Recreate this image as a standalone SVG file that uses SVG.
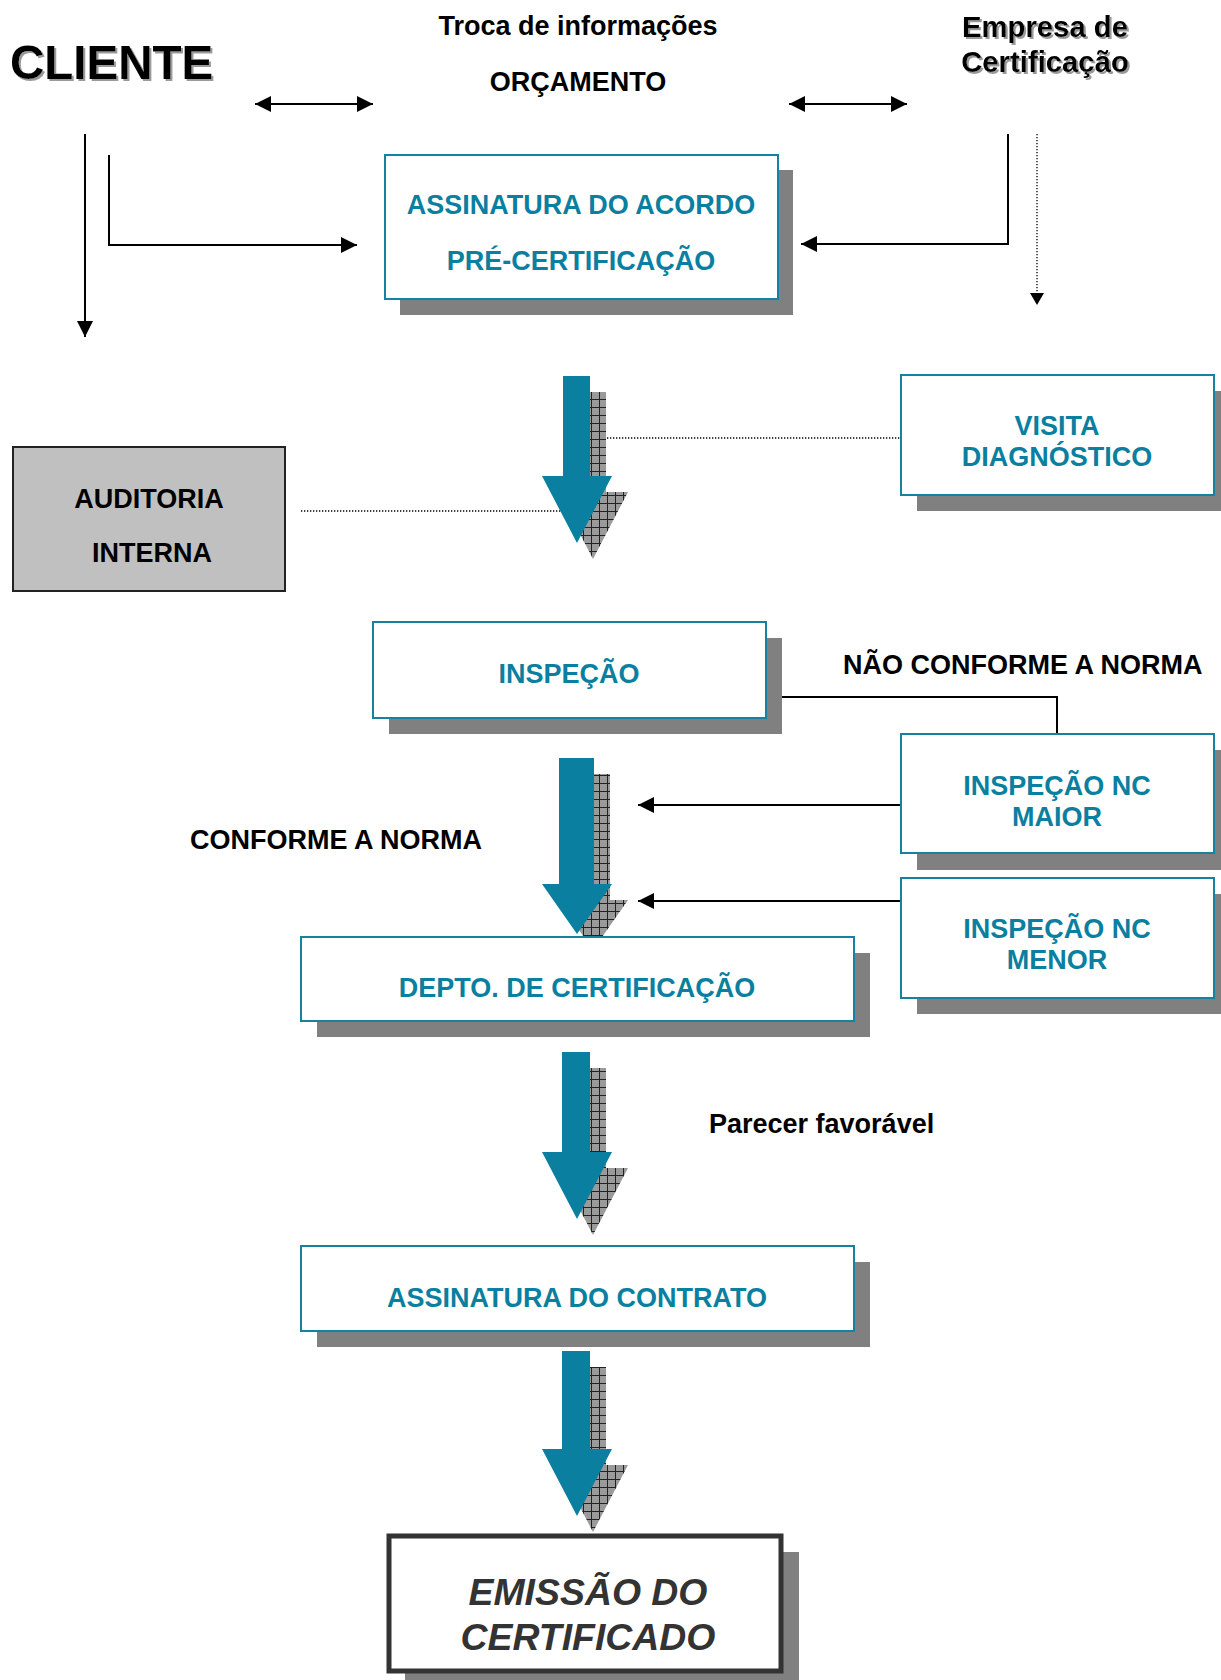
<svg xmlns="http://www.w3.org/2000/svg" width="1221" height="1680" viewBox="0 0 1221 1680">
<style>
text{font-family:"Liberation Sans",Arial,sans-serif;font-weight:bold}
.lbl{fill:#000;font-size:27px}
.teal{fill:#0B7FA0;font-size:27px;text-anchor:middle}
.box{fill:#fff;stroke:#1383A1;stroke-width:2}
.shadow{fill:#808080}
.line{fill:none;stroke:#000;stroke-width:2}
.dot{fill:none;stroke:#000;stroke-width:1.3;stroke-dasharray:1.3 1.7}
.big{fill:#0A7FA0}
.bigsh{fill:url(#hatch)}
</style>
<defs>
<marker id="ah" markerUnits="userSpaceOnUse" markerWidth="16" markerHeight="16" viewBox="0 0 14 14" refX="14" refY="7" orient="auto-start-reverse">
<path d="M0,0 L14,7 L0,14 z" fill="#000"/>
</marker>
<marker id="ahs" markerUnits="userSpaceOnUse" markerWidth="12" markerHeight="14" viewBox="0 0 12 14" refX="12" refY="7" orient="auto">
<path d="M0,0 L12,7 L0,14 z" fill="#000"/>
</marker>
<pattern id="hatch" patternUnits="userSpaceOnUse" width="8" height="8">
<rect width="8" height="8" fill="#9a9a9a"/>
<path d="M0,7.5 H8 M7.5,0 V8" stroke="#222" stroke-width="1"/>
</pattern>
<filter id="ts" x="-5%" y="-20%" width="115%" height="150%">
<feDropShadow dx="2" dy="2" stdDeviation="0.6" flood-color="#9a9a9a"/>
</filter>
</defs>

<g id="title-cliente"><text x="10" y="79" font-size="47.5" fill="#000" filter="url(#ts)">CLIENTE</text></g>
<g id="title-empresa" filter="url(#ts)">
<text x="1045" y="37" font-size="29.3" text-anchor="middle" fill="#000">Empresa de</text>
<text x="1045" y="72" font-size="29.3" text-anchor="middle" fill="#000">Certificação</text>
</g>
<g id="label-troca"><text class="lbl" x="578" y="35" text-anchor="middle">Troca de informações</text></g>
<g id="label-orcamento"><text class="lbl" x="578" y="91" text-anchor="middle">ORÇAMENTO</text></g>

<g id="connectors">
<line class="line" x1="255" y1="104" x2="373" y2="104" marker-start="url(#ah)" marker-end="url(#ah)"/>
<line class="line" x1="789" y1="104" x2="907" y2="104" marker-start="url(#ah)" marker-end="url(#ah)"/>
<line class="line" x1="85" y1="134" x2="85" y2="337" marker-end="url(#ah)"/>
<polyline class="line" points="109,155 109,245 357,245" marker-end="url(#ah)"/>
<polyline class="line" points="1008,134 1008,244 801,244" marker-end="url(#ah)"/>
<line class="dot" x1="1037" y1="134" x2="1037" y2="305" marker-end="url(#ahs)"/>
<line class="dot" x1="607" y1="438" x2="900" y2="438"/>
<line class="dot" x1="301" y1="511" x2="565" y2="511"/>
<polyline class="line" points="766,697 1057,697 1057,734"/>
<line class="line" x1="901" y1="805" x2="638" y2="805" marker-end="url(#ah)"/>
<line class="line" x1="901" y1="901" x2="638" y2="901" marker-end="url(#ah)"/>
</g>

<g id="node-acordo">
<rect class="shadow" x="400" y="170" width="393" height="145"/>
<rect class="box" x="385" y="155" width="393" height="144"/>
<text class="teal" x="581" y="214">ASSINATURA DO ACORDO</text>
<text class="teal" x="581" y="270">PRÉ-CERTIFICAÇÃO</text>
</g>

<g id="node-visita">
<rect class="shadow" x="917" y="391" width="313" height="120"/>
<rect class="box" x="901" y="375" width="313" height="120"/>
<text class="teal" x="1057" y="435">VISITA</text>
<text class="teal" x="1057" y="466">DIAGNÓSTICO</text>
</g>

<g id="node-auditoria">
<rect x="13" y="447" width="272" height="144" fill="#c0c0c0" stroke="#222" stroke-width="2"/>
<text class="lbl" x="149" y="508" text-anchor="middle" fill="#111">AUDITORIA</text>
<text class="lbl" x="152" y="562" text-anchor="middle" fill="#111">INTERNA</text>
</g>

<g id="flow-arrow-1">
<polygon class="bigsh" points="579,392 606,392 606,492 628,492 593,559 558,492 579,492"/>
<polygon class="big" points="563,376 590,376 590,476 612,476 577,543 542,476 563,476"/>
</g>

<g id="node-inspecao">
<rect class="shadow" x="389" y="638" width="393" height="96"/>
<rect class="box" x="373" y="622" width="393" height="96"/>
<text class="teal" x="569" y="683">INSPEÇÃO</text>
</g>
<g id="label-nao-conforme"><text class="lbl" x="843" y="674">NÃO CONFORME A NORMA</text></g>

<g id="node-nc-maior">
<rect class="shadow" x="917" y="750" width="313" height="120"/>
<rect class="box" x="901" y="734" width="313" height="119"/>
<text class="teal" x="1057" y="795">INSPEÇÃO NC</text>
<text class="teal" x="1057" y="826">MAIOR</text>
</g>

<g id="node-nc-menor">
<rect class="shadow" x="917" y="894" width="313" height="120"/>
<rect class="box" x="901" y="878" width="313" height="120"/>
<text class="teal" x="1057" y="938">INSPEÇÃO NC</text>
<text class="teal" x="1057" y="969">MENOR</text>
</g>

<g id="flow-arrow-2">
<polygon class="bigsh" points="575,774 610,774 610,900 628,900 593,950 558,900 575,900"/>
<polygon class="big" points="559,758 594,758 594,884 612,884 577,934 542,884 559,884"/>
</g>
<g id="label-conforme"><text class="lbl" x="190" y="849">CONFORME A NORMA</text></g>

<g id="node-depto">
<rect class="shadow" x="317" y="953" width="553" height="84"/>
<rect class="box" x="301" y="937" width="553" height="84"/>
<text class="teal" x="577" y="997">DEPTO. DE CERTIFICAÇÃO</text>
</g>

<g id="flow-arrow-3">
<polygon class="bigsh" points="578,1068 606,1068 606,1168 628,1168 593,1235 558,1168 578,1168"/>
<polygon class="big" points="562,1052 590,1052 590,1152 612,1152 577,1219 542,1152 562,1152"/>
</g>
<g id="label-parecer"><text class="lbl" x="709" y="1133">Parecer favorável</text></g>

<g id="node-contrato">
<rect class="shadow" x="317" y="1262" width="553" height="85"/>
<rect class="box" x="301" y="1246" width="553" height="85"/>
<text class="teal" x="577" y="1307">ASSINATURA DO CONTRATO</text>
</g>

<g id="flow-arrow-4">
<polygon class="bigsh" points="578,1367 606,1367 606,1465 628,1465 593,1532 558,1465 578,1465"/>
<polygon class="big" points="562,1351 590,1351 590,1449 612,1449 577,1516 542,1449 562,1449"/>
</g>

<g id="node-emissao">
<rect class="shadow" x="405" y="1552" width="394" height="136"/>
<rect x="389" y="1536" width="392" height="135" fill="#fff" stroke="#333" stroke-width="5"/>
<text x="588" y="1605" font-size="37.4" font-style="italic" text-anchor="middle" fill="#333">EMISSÃO DO</text>
<text x="588" y="1650" font-size="37.4" font-style="italic" text-anchor="middle" fill="#333">CERTIFICADO</text>
</g>
</svg>
